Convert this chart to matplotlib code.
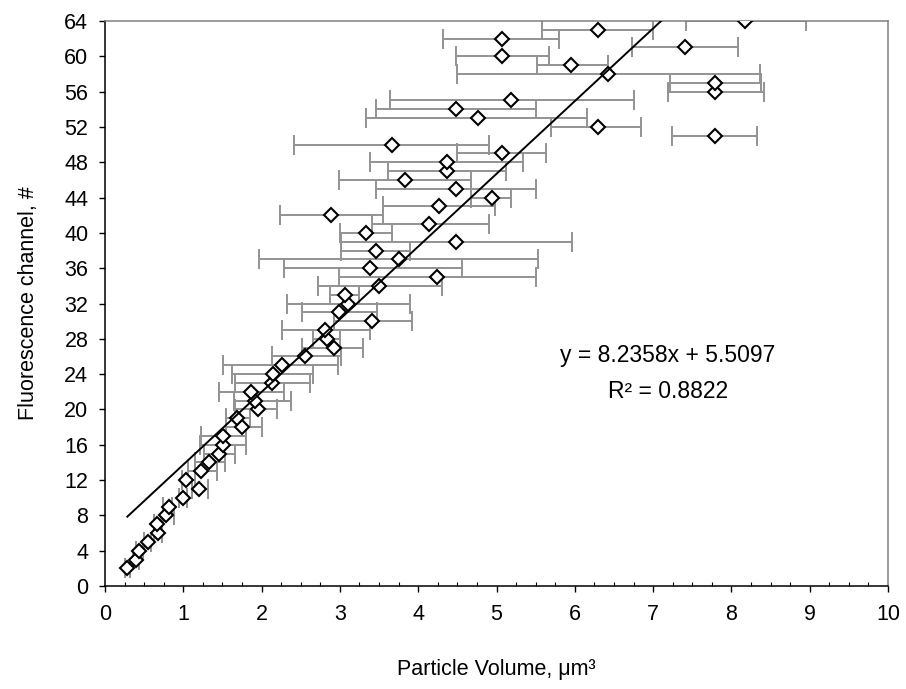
import numpy as np
import matplotlib
matplotlib.use('Agg')
import matplotlib.pyplot as plt
from matplotlib.ticker import MultipleLocator

plt.rcParams['font.family'] = ['Liberation Sans', 'DejaVu Sans']
plt.rcParams['font.size'] = 15.5

# fluorescence channel of each particle class
channel = [2, 3, 4, 5, 6, 7, 8, 9, 10, 11, 12, 13, 14, 15, 16, 17, 18, 19, 20, 21,
           22, 23, 24, 25, 26, 27, 28, 29, 30, 31, 32, 33, 34, 35, 36, 37, 38, 39, 40, 41,
           42, 43, 44, 45, 46, 47, 48, 49, 50, 51, 52, 53, 54, 55, 56, 57, 58, 59, 60, 61,
           62, 63, 64]

# mean particle volume, um^3
volume = [0.285, 0.40, 0.44, 0.545, 0.68, 0.67, 0.78, 0.82, 1.00, 1.20, 1.03, 1.23, 1.33, 1.46, 1.51, 1.51, 1.75, 1.68, 1.96, 1.92,
          1.87, 2.13, 2.15, 2.26, 2.55, 2.92, 2.84, 2.81, 3.41, 2.99, 3.10, 3.07, 3.50, 4.24, 3.39, 3.75, 3.46, 4.48, 3.33, 4.14,
          2.89, 4.27, 4.94, 4.48, 3.83, 4.37, 4.37, 5.07, 3.66, 7.79, 6.29, 4.76, 4.48, 5.19, 7.79, 7.79, 6.42, 5.95, 5.07, 7.41,
          5.07, 6.29, 8.18]

# lower / upper end of the volume range
vol_low = [0.25, 0.36, 0.40, 0.50, 0.63, 0.62, 0.74, 0.74, 0.95, 1.11, 0.98, 1.06, 1.15, 1.26, 1.21, 1.23, 1.55, 1.55, 1.66, 1.65,
           1.46, 1.66, 1.62, 1.51, 2.13, 2.51, 2.66, 2.26, 2.92, 2.51, 2.33, 2.87, 2.72, 2.99, 2.28, 1.97, 3.02, 3.02, 3.00, 3.41,
           2.23, 3.55, 4.68, 3.46, 2.99, 3.61, 3.38, 4.50, 2.41, 7.24, 5.70, 3.33, 3.46, 3.64, 7.19, 7.21, 4.50, 5.52, 4.48, 6.73,
           4.32, 5.58, 7.42]
vol_high = [0.32, 0.44, 0.48, 0.59, 0.73, 0.72, 0.88, 0.85, 1.05, 1.32, 1.15, 1.43, 1.53, 1.66, 1.80, 1.80, 2.00, 1.85, 2.20, 2.38,
            2.28, 2.62, 2.66, 2.98, 3.02, 3.30, 3.00, 3.38, 3.92, 3.48, 3.90, 3.25, 4.30, 5.50, 4.56, 5.53, 3.89, 5.96, 3.66, 4.91,
            3.55, 4.98, 5.19, 5.50, 4.68, 5.12, 5.34, 5.63, 4.91, 8.33, 6.85, 6.16, 5.50, 6.75, 8.41, 8.38, 8.36, 6.42, 5.67, 8.08,
            5.80, 7.00, 8.95]

# linear trendline
slope = 8.2358
intercept = 5.5097
r_squared = 0.8822

x = np.array(volume)
y = np.array(channel)
xerr = [x - np.array(vol_low), np.array(vol_high) - x]

fig = plt.figure(figsize=(9.06, 6.89), dpi=100)
ax = fig.add_axes([105 / 906, 1 - 586 / 689, 783 / 906, 565 / 689])

ax.errorbar(x, y, xerr=xerr, fmt='none', ecolor='#939393', elinewidth=1.4,
            capsize=7.5, capthick=1.4, zorder=2)
ax.plot(x, y, 'D', ms=7.5, mfc='white', mec='black', mew=1.5, zorder=3)

x_fit = np.array([x.min(), x.max()])
ax.plot(x_fit, slope * x_fit + intercept, color='black', lw=1.4, zorder=4)

ax.text(7.19, 26.1, 'y = %.4fx + %.4f' % (slope, intercept), ha='center', va='center', fontsize=16.5)
ax.text(7.19, 22.0, 'R\u00b2 = %.4f' % r_squared, ha='center', va='center', fontsize=16.5)

ax.set_xlim(0, 10)
ax.set_ylim(0, 64)
ax.xaxis.set_major_locator(MultipleLocator(1))
ax.xaxis.set_minor_locator(MultipleLocator(0.25))
ax.yaxis.set_major_locator(MultipleLocator(4))

ax.tick_params(axis='x', which='major', direction='out', length=4, width=1, pad=9)
ax.tick_params(axis='x', which='minor', direction='in', length=3, width=0.8)
ax.tick_params(axis='y', which='major', direction='out', length=4, width=1, pad=8)
ax.tick_params(right=False, top=False)

for side in ['left', 'bottom']:
    ax.spines[side].set_color('black')
    ax.spines[side].set_linewidth(1.1)
for side in ['top', 'right']:
    ax.spines[side].set_color('#808080')
    ax.spines[side].set_linewidth(1.1)

ax.set_xlabel('Particle Volume, \u03bcm\u00b3')
ax.set_ylabel('Fluorescence channel, #', va='center')
ax.xaxis.set_label_coords(0.5, -0.13)
ax.yaxis.set_label_coords(-0.098, 0.5)

fig.savefig('out.png', dpi=100)
